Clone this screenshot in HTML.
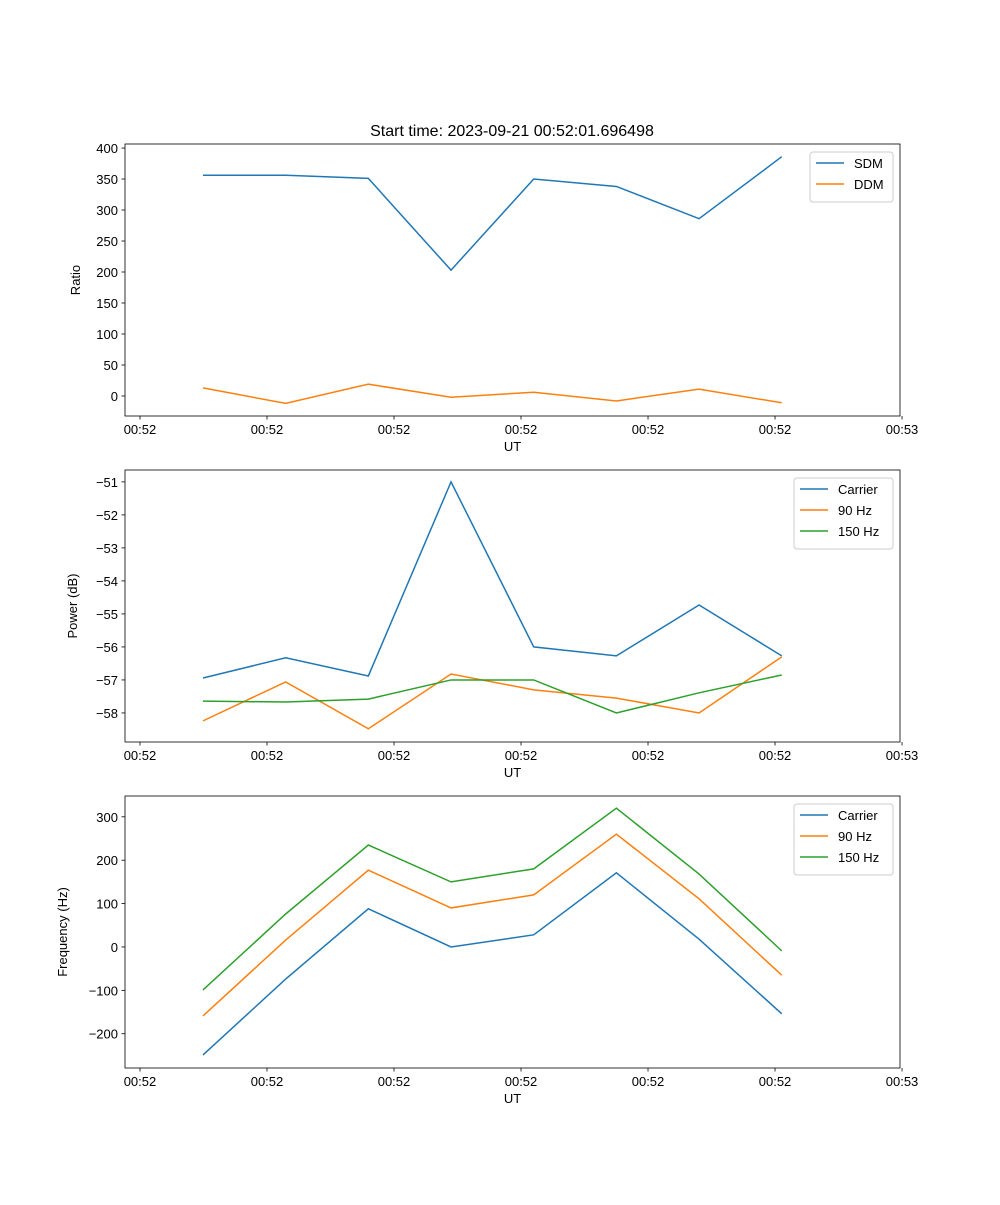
<!DOCTYPE html>
<html><head><meta charset="utf-8"><style>
body{margin:0;background:#fff}
svg text{font-family:"Liberation Sans","DejaVu Sans",sans-serif;fill:#000}
</style></head><body>
<svg id="fig" width="1000" height="1200" xmlns="http://www.w3.org/2000/svg">
<rect width="1000" height="1200" fill="#fff"/>
<text x="512" y="136" font-size="16" text-anchor="middle">Start time: 2023-09-21 00:52:01.696498</text>
</svg>
<script>
const times = [0.496, 1.147, 1.798, 2.449, 3.100, 3.751, 4.402, 5.053];
const xTicks = [0, 1, 2, 3, 4, 5, 6];
const xTickLabels = ["00:52","00:52","00:52","00:52","00:52","00:52","00:53"];
const sdm = [356, 356, 351, 203, 350, 338, 286, 386];
const ddm = [13, -12, 19, -2, 6, -8, 11, -11];
const powCarrier = [-56.94, -56.33, -56.88, -51.0, -56.0, -56.27, -54.73, -56.27];
const pow90 = [-58.24, -57.06, -58.48, -56.82, -57.3, -57.55, -58.0, -56.3];
const pow150 = [-57.64, -57.67, -57.58, -57.0, -57.0, -58.0, -57.39, -56.85];
const freqCarrier = [-249, -74, 88, 0, 28, 171, 18, -154];
const freq90 = [-159, 16, 177, 90, 120, 260, 111, -65];
const freq150 = [-99, 76, 235, 150, 180, 320, 168, -9];
const ticks1 = [0, 50, 100, 150, 200, 250, 300, 350, 400];
const ticks2 = [-58, -57, -56, -55, -54, -53, -52, -51];
const ticks3 = [-200, -100, 0, 100, 200, 300];

const NS = "http://www.w3.org/2000/svg";
const svg = document.getElementById('fig');
const C = ["#1f77b4", "#ff7f0e", "#2ca02c"];
function mk(tag, attrs, parent) {
  const e = document.createElementNS(NS, tag);
  for (const k in attrs) e.setAttribute(k, attrs[k]);
  (parent || svg).appendChild(e); return e;
}
const L = 125, R = 900, XMIN = -0.118, XMAX = 5.984;
function sx(v) { return L + (v - XMIN) / (XMAX - XMIN) * (R - L); }

function panel(name, top, ymin, ymax, yticks, ylabel, series, names, legend) {
  const bot = top + 272;
  const g = mk('g', {});
  
  
  const sy = v => bot - (v - ymin) / (ymax - ymin) * (bot - top);
  series.forEach((s, i) => {
    const p = mk('polyline', {points: s.map((v, j) => sx(times[j]) + ',' + sy(v)).join(' '), fill: 'none', stroke: C[i], 'stroke-width': 1.5}, g);
    
    
  });
  mk('rect', {x: L, y: top, width: R - L, height: bot - top, fill: 'none', stroke: '#000', 'stroke-width': 0.8}, g);
  xTicks.forEach((t, i) => {
    const x = sx(t);
    mk('line', {x1: x, x2: x, y1: bot, y2: bot + 3.5, stroke: '#000', 'stroke-width': 0.8}, g);
    const tx = mk('text', {x: x, y: bot + 18, 'font-size': 13, 'text-anchor': 'middle'}, g);
    tx.textContent = xTickLabels[i];
    
    
  });
  const xl = mk('text', {x: (L + R) / 2, y: bot + 35, 'font-size': 13, 'text-anchor': 'middle'}, g);
  xl.textContent = 'UT';
  
  
  yticks.forEach(t => {
    const y = sy(t);
    mk('line', {x1: L - 3.5, x2: L, y1: y, y2: y, stroke: '#000', 'stroke-width': 0.8}, g);
    const tx = mk('text', {x: L - 7, y: y + 5, 'font-size': 13, 'text-anchor': 'end'}, g);
    tx.textContent = String(t).replace('-', '\u2212');
    
    
  });
  const yl = mk('text', {x: legend.yx, y: (top + bot) / 2, 'font-size': 13, 'text-anchor': 'middle', transform: 'rotate(-90 ' + legend.yx + ' ' + (top + bot) / 2 + ')'}, g);
  yl.textContent = ylabel;
  
  
  const lg = mk('g', {}, g);
  
  
  mk('rect', {x: legend.x, y: top + 8, width: 893 - legend.x, height: 8 + names.length * 21, fill: '#fff', stroke: '#ccc', rx: 3}, lg);
  names.forEach((n, i) => {
    const y = top + 19 + i * 21;
    mk('line', {x1: legend.x + 6, x2: legend.x + 34, y1: y, y2: y, stroke: C[i], 'stroke-width': 1.5}, lg);
    const tx = mk('text', {x: legend.x + 44, y: y + 5, 'font-size': 13}, lg);
    tx.textContent = n;
    
    
  });
}
panel('ratio-panel', 144, -32.3, 406.5, ticks1, 'Ratio', [sdm, ddm], ['SDM', 'DDM'], {x: 810, yx: 80});
panel('power-panel', 470, -58.88, -50.64, ticks2, 'Power (dB)', [powCarrier, pow90, pow150], ['Carrier', '90 Hz', '150 Hz'], {x: 794, yx: 77});
panel('frequency-panel', 796, -279, 348, ticks3, 'Frequency (Hz)', [freqCarrier, freq90, freq150], ['Carrier', '90 Hz', '150 Hz'], {x: 794, yx: 67});
</script>
</body></html>
